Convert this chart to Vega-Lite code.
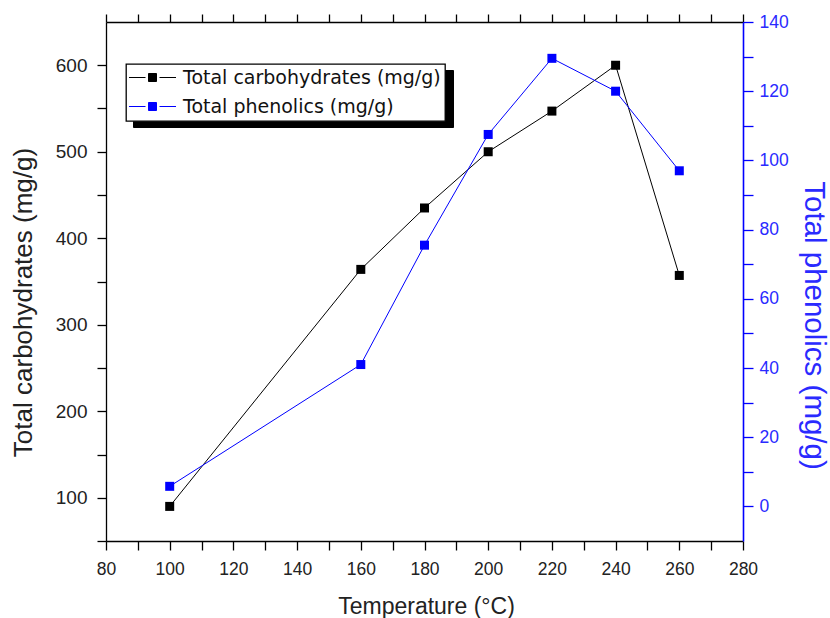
{
  "$schema": "https://vega.github.io/schema/vega-lite/v6.json",
  "width": 637,
  "height": 519,
  "autosize": {"type": "none"},
  "padding": {"left": 106, "top": 22, "right": 87, "bottom": 77},
  "background": "white",
  "config": {
    "view": {"stroke": null},
    "axis": {
      "grid": false,
      "domainColor": "#000000",
      "tickColor": "#000000",
      "domainWidth": 1.3,
      "tickWidth": 1.3,
      "labelFont": "Liberation Sans",
      "titleFont": "Liberation Sans",
      "titleFontWeight": "normal",
      "labelColor": "#222222",
      "titleColor": "#222222",
      "labelFontSize": 17.5
    }
  },
  "data": {
    "values": [
      {"temp": 100, "series": "Total carbohydrates (mg/g)", "value": 90},
      {"temp": 160, "series": "Total carbohydrates (mg/g)", "value": 364},
      {"temp": 180, "series": "Total carbohydrates (mg/g)", "value": 435},
      {"temp": 200, "series": "Total carbohydrates (mg/g)", "value": 500},
      {"temp": 220, "series": "Total carbohydrates (mg/g)", "value": 547},
      {"temp": 240, "series": "Total carbohydrates (mg/g)", "value": 600},
      {"temp": 260, "series": "Total carbohydrates (mg/g)", "value": 357},
      {"temp": 100, "series": "Total phenolics (mg/g)", "value": 5.8},
      {"temp": 160, "series": "Total phenolics (mg/g)", "value": 41},
      {"temp": 180, "series": "Total phenolics (mg/g)", "value": 75.5},
      {"temp": 200, "series": "Total phenolics (mg/g)", "value": 107.5},
      {"temp": 220, "series": "Total phenolics (mg/g)", "value": 129.5},
      {"temp": 240, "series": "Total phenolics (mg/g)", "value": 120},
      {"temp": 260, "series": "Total phenolics (mg/g)", "value": 97}
    ]
  },
  "layer": [
    {
      "transform": [{"filter": "datum.series === 'Total carbohydrates (mg/g)'"}],
      "encoding": {
        "x": {
          "field": "temp", "type": "quantitative",
          "scale": {"domain": [80, 280], "nice": false, "zero": false},
          "axis": {
            "orient": "bottom",
            "values": [80, 90, 100, 110, 120, 130, 140, 150, 160, 170, 180, 190, 200, 210, 220, 230, 240, 250, 260, 270, 280],
            "labelExpr": "datum.value % 20 === 0 ? datum.label : ''",
            "tickSize": 9,
            "labelPadding": 10,
            "labelFlush": false,
            "labelOverlap": false,
            "title": "Temperature (°C)",
            "titleFontSize": 23,
            "titleX": 320,
            "titleY": 72,
            "titleBaseline": "alphabetic",
            "encode": {"ticks": {"update": {"y2": {"signal": "datum.value % 20 === 0 ? 9 : 5"}}}}
          }
        },
        "y": {
          "field": "value", "type": "quantitative",
          "scale": {"domain": [50, 650], "nice": false, "zero": false},
          "axis": {
            "orient": "left",
            "values": [50, 100, 150, 200, 250, 300, 350, 400, 450, 500, 550, 600],
            "labelExpr": "datum.value % 100 === 0 ? datum.label : ''",
            "tickSize": 9,
            "labelPadding": 10,
            "labelFontSize": 19,
            "labelOverlap": false,
            "labelFlush": false,
            "title": "Total carbohydrates (mg/g)",
            "titleFontSize": 26,
            "titleX": -75,
            "titleY": 280,
            "titleBaseline": "alphabetic",
            "titleAngle": -90,
            "encode": {"ticks": {"update": {"x2": {"signal": "datum.value % 100 === 0 ? -9 : -5"}}}}
          }
        },
        "color": {
          "field": "series", "type": "nominal",
          "scale": {"domain": ["Total carbohydrates (mg/g)", "Total phenolics (mg/g)"], "range": ["#000000", "#0000ff"]},
          "legend": {
            "title": null,
            "orient": "none",
            "legendX": 20,
            "legendY": 42,
            "zindex": 2,
            "fillColor": "white",
            "strokeColor": "#000000",
            "padding": 4,
            "rowPadding": 9,
            "symbolType": "M-4.7,0H-1.4M1.4,0H4.7M-0.8,-0.8H0.8V0.8H-0.8Z",
            "symbolSize": 100,
            "symbolStrokeWidth": 1,
            "symbolOffset": 13,
            "labelOffset": 21,
            "labelFont": "DejaVu Sans",
            "labelFontSize": 19,
            "labelColor": "#111111",
            "labelLimit": 400,
            "encode": {
              "legend": {"update": {"strokeWidth": {"value": 1.3}}},
              "symbols": {
                "update": {
                  "fill": {"scale": "color", "field": "value"},
                  "stroke": {"scale": "color", "field": "value"},
                  "opacity": {"value": 1},
                  "fillOpacity": {"value": 1}
                }
              }
            }
          }
        }
      },
      "layer": [
        {
          "mark": {"type": "line", "strokeWidth": 1},
          "encoding": {
            "opacity": {
              "field": "series", "type": "nominal",
              "scale": {"range": [1, 1]},
              "legend": {
                "title": null,
                "orient": "none",
                "legendX": 27,
                "legendY": 48,
                "zindex": 1,
                "fillColor": "#000000",
                "strokeColor": "#000000",
                "padding": 4,
                "rowPadding": 9,
                "symbolType": "M-16.42,-1H16.42V1H-16.42Z",
                "symbolSize": 361,
                "symbolStrokeWidth": 0,
                "symbolOffset": 146.5,
                "symbolFillColor": "#000000",
                "symbolStrokeColor": "#000000",
                "labelOffset": 0,
                "labelExpr": "''",
                "labelFont": "DejaVu Sans",
                "labelFontSize": 19,
                "labelColor": "#000000"
              }
            }
          }
        },
        {"mark": {"type": "point", "shape": "square", "filled": true, "size": 81, "opacity": 1}}
      ]
    },
    {
      "transform": [{"filter": "datum.series === 'Total phenolics (mg/g)'"}],
      "encoding": {
        "x": {
          "field": "temp", "type": "quantitative",
          "axis": {
            "orient": "top",
            "values": [80, 90, 100, 110, 120, 130, 140, 150, 160, 170, 180, 190, 200, 210, 220, 230, 240, 250, 260, 270, 280],
            "labels": false,
            "title": null,
            "tickSize": 8,
            "encode": {"ticks": {"update": {"y2": {"signal": "datum.value % 20 === 0 ? 8 : 4"}}}}
          }
        },
        "y": {
          "field": "value", "type": "quantitative",
          "scale": {"domain": [-10, 140], "nice": false, "zero": false},
          "axis": {
            "orient": "right",
            "values": [0, 10, 20, 30, 40, 50, 60, 70, 80, 90, 100, 110, 120, 130, 140],
            "labelExpr": "datum.value % 20 === 0 ? datum.label : ''",
            "tickSize": 10,
            "labelPadding": 6,
            "labelOverlap": false,
            "labelFlush": false,
            "domainColor": "#0000ff",
            "tickColor": "#0000ff",
            "domainWidth": 1.6,
            "labelColor": "#2a2aff",
            "titleColor": "#2a2aff",
            "title": "Total phenolics (mg/g)",
            "titleAngle": 90,
            "titleFontSize": 29.5,
            "titleX": 61,
            "titleY": 303,
            "titleBaseline": "alphabetic",
            "encode": {"ticks": {"update": {"x2": {"signal": "datum.value % 20 === 0 ? 10 : 6"}}}}
          }
        },
        "color": {"field": "series", "type": "nominal"}
      },
      "layer": [
        {
          "mark": {"type": "line", "strokeWidth": 1},
          "encoding": {"opacity": {"field": "series", "type": "nominal"}}
        },
        {"mark": {"type": "point", "shape": "square", "filled": true, "size": 81, "opacity": 1}}
      ]
    }
  ],
  "resolve": {"scale": {"y": "independent"}, "axis": {"x": "independent"}}
}
